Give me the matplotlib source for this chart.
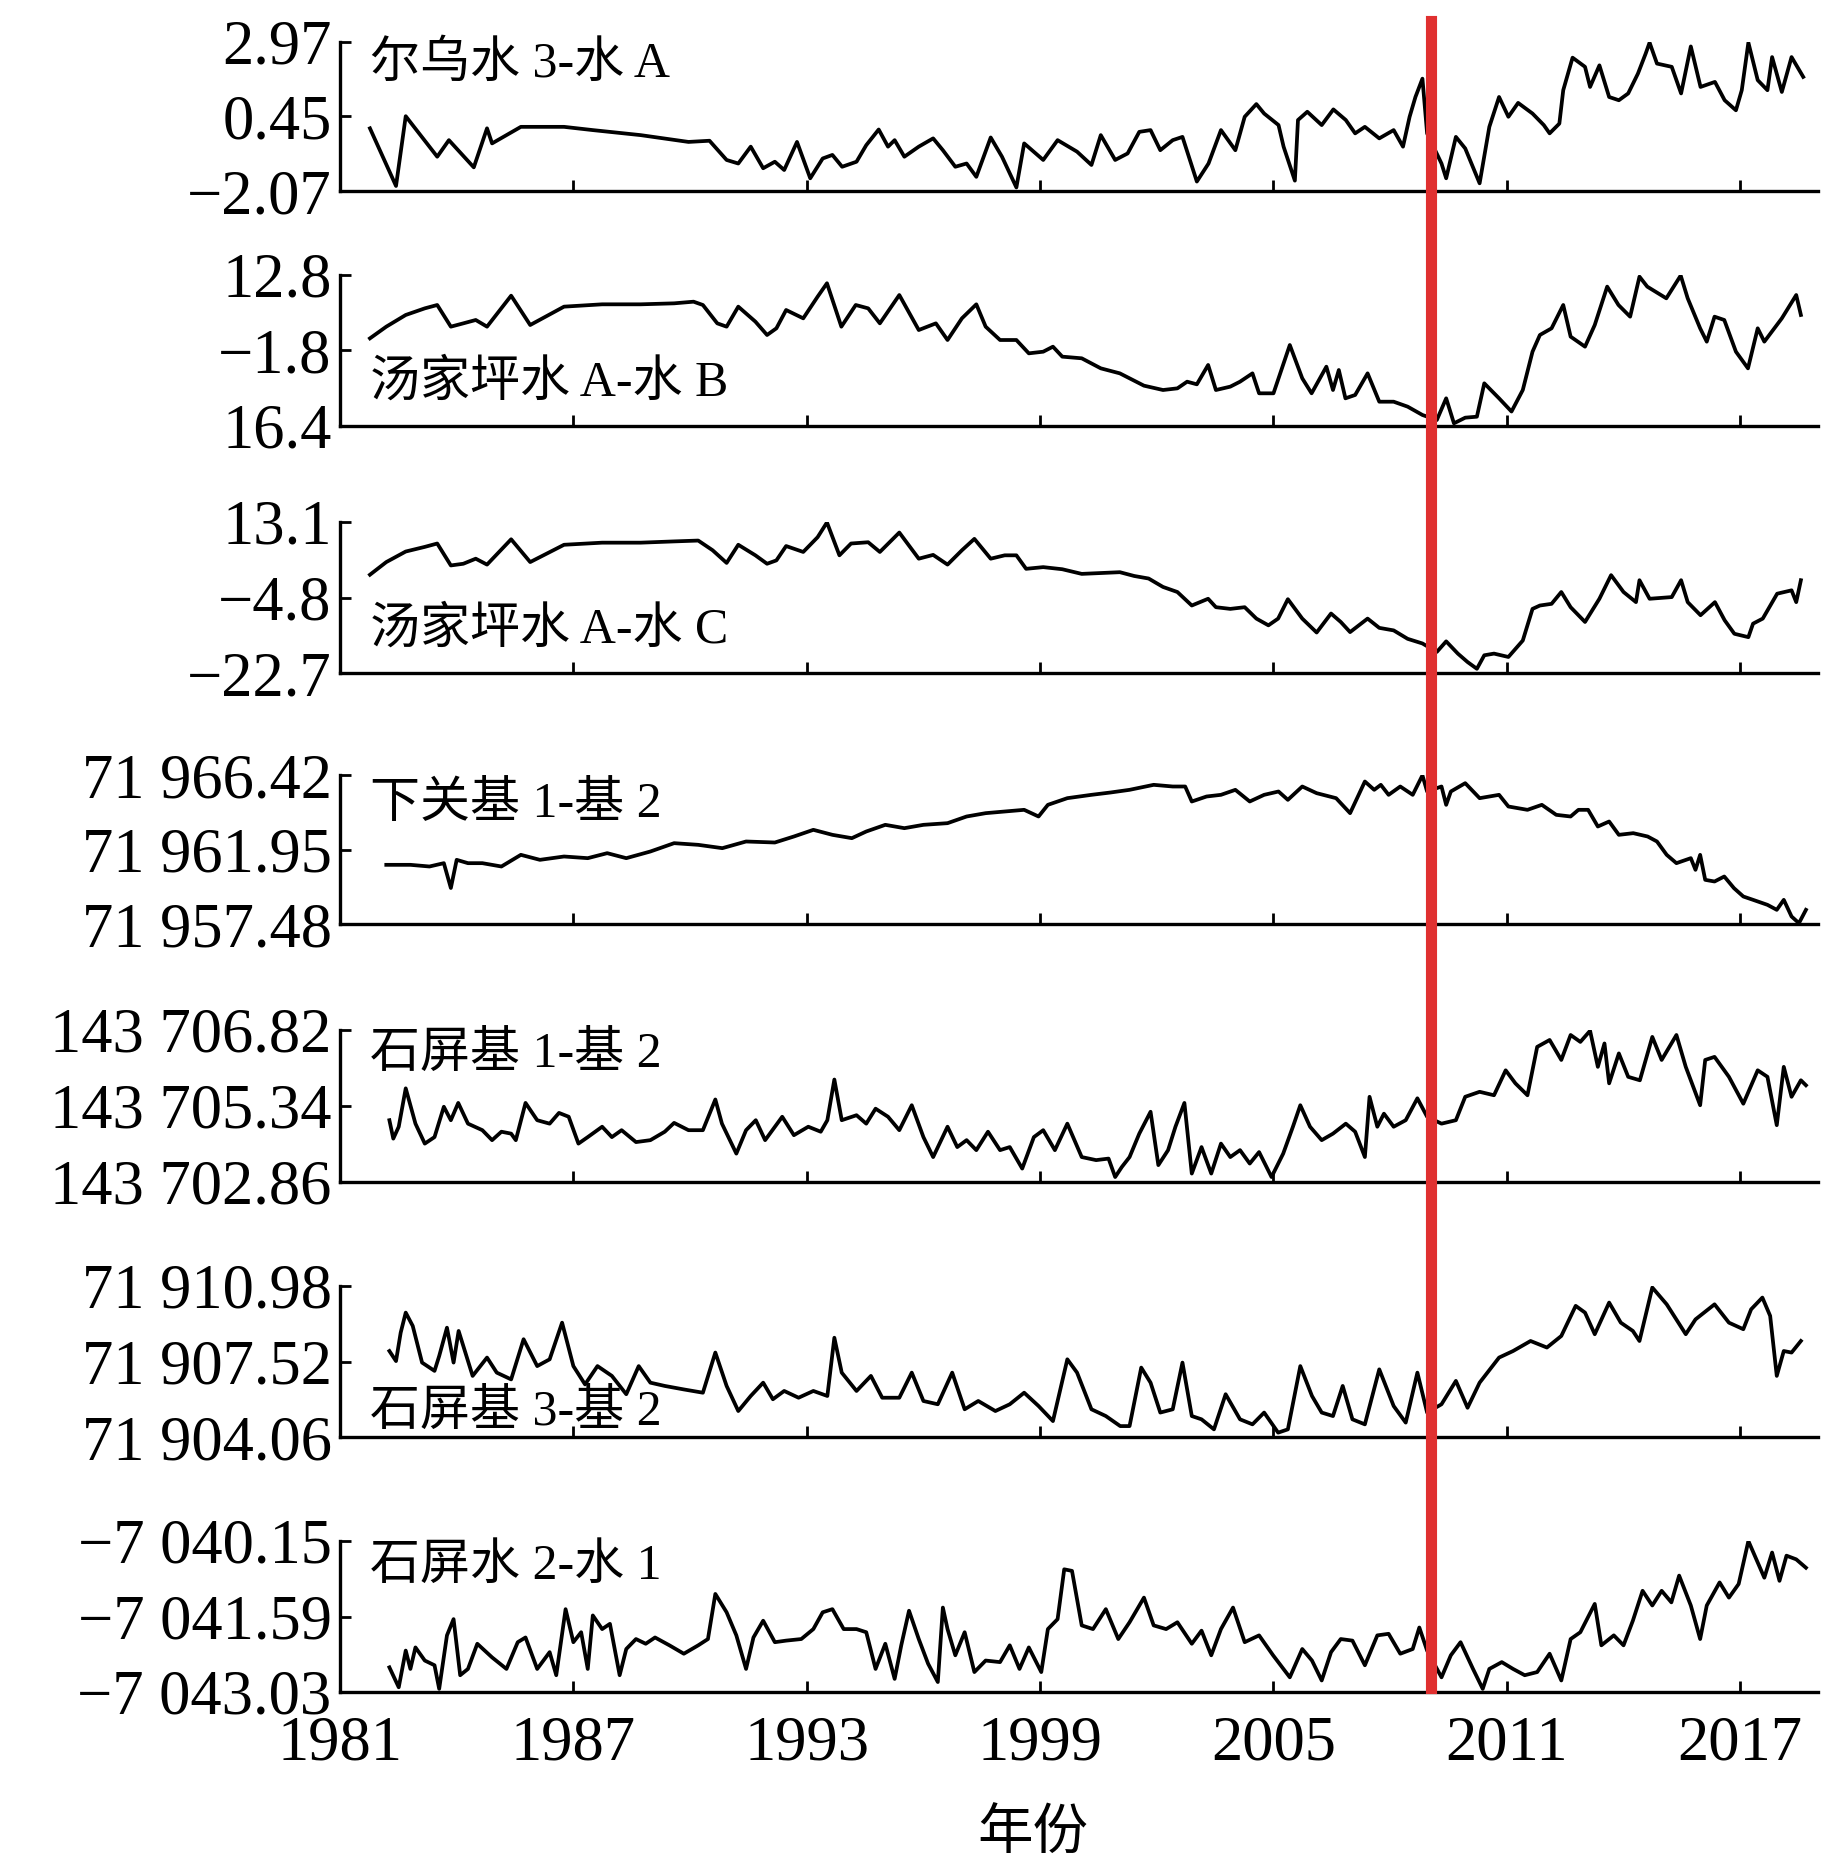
import matplotlib
matplotlib.use("Agg")
import matplotlib.pyplot as plt
from matplotlib.lines import Line2D
from matplotlib.transforms import blended_transform_factory

plt.rcParams['font.family'] = ['Liberation Serif', 'Noto Sans CJK SC', 'DejaVu Sans']
plt.rcParams['axes.unicode_minus'] = True

# ---------------- data (year, value) ----------------
s1 = [(1981.77, 0.05), (1982.44, -1.90), (1982.69, 0.46), (1983.50, -0.91), (1983.80, -0.35),
      (1984.44, -1.27), (1984.78, 0.05), (1984.91, -0.46), (1985.65, 0.10), (1986.76, 0.10),
      (1987.5, -0.01), (1988.73, -0.18), (1989.96, -0.41), (1990.5, -0.37), (1990.94, -1.02),
      (1991.24, -1.14), (1991.56, -0.57), (1991.88, -1.30), (1992.18, -1.08), (1992.42, -1.36),
      (1992.75, -0.41), (1993.09, -1.64), (1993.41, -0.97), (1993.66, -0.85), (1993.91, -1.25),
      (1994.28, -1.08), (1994.53, -0.52), (1994.85, 0.01), (1995.09, -0.57), (1995.26, -0.35),
      (1995.51, -0.91), (1995.88, -0.57), (1996.25, -0.29), (1996.5, -0.69), (1996.82, -1.25),
      (1997.11, -1.14), (1997.36, -1.59), (1997.73, -0.26), (1998.02, -0.91), (1998.39, -1.95),
      (1998.59, -0.46), (1999.08, -1.02), (1999.45, -0.35), (1999.95, -0.74), (2000.32, -1.19),
      (2000.56, -0.18), (2000.93, -1.02), (2001.25, -0.80), (2001.55, -0.07), (2001.84, -0.01),
      (2002.09, -0.69), (2002.41, -0.35), (2002.66, -0.24), (2003.03, -1.75), (2003.33, -1.14),
      (2003.65, -0.01), (2004.02, -0.69), (2004.26, 0.44), (2004.56, 0.87), (2004.76, 0.55),
      (2005.13, 0.16), (2005.26, -0.57), (2005.55, -1.72), (2005.63, 0.33), (2005.87, 0.61),
      (2006.24, 0.16), (2006.54, 0.69), (2006.86, 0.33), (2007.10, -0.12), (2007.35, 0.10),
      (2007.72, -0.29), (2008.09, -0.01), (2008.33, -0.57), (2008.50, 0.44), (2008.65, 1.11),
      (2008.83, 1.73), (2008.95, -0.12), (2009.32, -1.14), (2009.44, -1.64), (2009.69, -0.24),
      (2009.93, -0.63), (2010.30, -1.81), (2010.55, 0.10), (2010.80, 1.11), (2011.04, 0.44),
      (2011.29, 0.91), (2011.66, 0.55), (2011.95, 0.16), (2012.10, -0.12), (2012.35, 0.21),
      (2012.45, 1.34), (2012.69, 2.44), (2013.01, 2.13), (2013.14, 1.45), (2013.38, 2.18),
      (2013.63, 1.11), (2013.88, 1.00), (2014.12, 1.23), (2014.37, 1.90), (2014.57, 2.58),
      (2014.67, 2.95), (2014.86, 2.24), (2015.24, 2.13), (2015.48, 1.23), (2015.73, 2.82),
      (2015.98, 1.45), (2016.35, 1.62), (2016.60, 1.00), (2016.89, 0.66), (2017.04, 1.34),
      (2017.21, 2.95), (2017.45, 1.68), (2017.70, 1.34), (2017.82, 2.46), (2018.07, 1.28),
      (2018.32, 2.46), (2018.62, 1.79)]

s2 = [(1981.77, 0.55), (1982.19, 2.81), (1982.69, 5.07), (1983.18, 6.35), (1983.50, 7.0),
      (1983.85, 2.81), (1984.17, 3.45), (1984.49, 4.10), (1984.78, 2.81), (1985.40, 8.80),
      (1985.89, 3.13), (1986.76, 6.68), (1987.74, 7.13), (1988.73, 7.13), (1989.59, 7.32),
      (1990.09, 7.64), (1990.33, 7.0), (1990.70, 3.45), (1990.94, 2.81), (1991.24, 6.68),
      (1991.68, 3.78), (1991.98, 1.20), (1992.22, 2.49), (1992.47, 6.03), (1992.91, 4.42),
      (1993.28, 8.61), (1993.52, 11.2), (1993.89, 2.81), (1994.26, 7.0), (1994.58, 6.35),
      (1994.88, 3.45), (1995.38, 8.93), (1995.88, 2.16), (1996.32, 3.45), (1996.62, 0.23),
      (1996.99, 4.42), (1997.36, 7.13), (1997.60, 2.81), (1997.97, 0.23), (1998.39, 0.23),
      (1998.71, -2.35), (1999.08, -2.03), (1999.33, -1.06), (1999.57, -2.99), (2000.07, -3.31),
      (2000.56, -5.25), (2001.05, -6.22), (2001.30, -7.18), (2001.67, -8.6), (2002.16, -9.44),
      (2002.53, -9.12), (2002.78, -7.83), (2003.03, -8.34), (2003.32, -4.60), (2003.52, -9.44),
      (2003.89, -8.79), (2004.14, -7.83), (2004.46, -6.22), (2004.63, -10.08), (2005.0, -10.08),
      (2005.42, -0.74), (2005.74, -7.18), (2005.98, -10.08), (2006.36, -4.93), (2006.53, -9.44),
      (2006.68, -5.57), (2006.85, -11.05), (2007.10, -10.4), (2007.42, -6.22), (2007.72, -11.7),
      (2008.09, -11.7), (2008.45, -12.66), (2008.83, -14.27), (2009.20, -15.24), (2009.44, -11.05),
      (2009.64, -15.88), (2009.93, -14.79), (2010.23, -14.6), (2010.42, -8.15), (2010.80, -11.05),
      (2011.12, -13.6), (2011.41, -9.44), (2011.66, -2.03), (2011.85, 1.20), (2012.15, 2.49),
      (2012.45, 7.0), (2012.64, 0.88), (2013.01, -1.06), (2013.26, 3.13), (2013.58, 10.55),
      (2013.87, 7.0), (2014.17, 4.74), (2014.41, 12.48), (2014.61, 10.55), (2015.10, 8.29),
      (2015.47, 12.7), (2015.65, 8.29), (2015.97, 2.49), (2016.14, -0.09), (2016.34, 4.74),
      (2016.59, 4.10), (2016.89, -2.03), (2017.20, -5.25), (2017.45, 2.49), (2017.62, -0.09),
      (2018.07, 4.42), (2018.44, 8.93), (2018.56, 5.07)]

s3 = [(1981.77, 0.6), (1982.19, 3.6), (1982.69, 6.1), (1983.18, 7.2), (1983.50, 8.0),
      (1983.85, 2.8), (1984.17, 3.2), (1984.49, 4.4), (1984.78, 3.0), (1985.40, 9.0),
      (1985.89, 3.6), (1986.76, 7.7), (1987.74, 8.2), (1988.73, 8.2), (1989.59, 8.5),
      (1990.21, 8.7), (1990.58, 6.4), (1990.94, 3.4), (1991.24, 7.7), (1991.68, 5.2),
      (1991.98, 3.2), (1992.22, 4.0), (1992.47, 7.4), (1992.91, 6.0), (1993.28, 9.5),
      (1993.52, 13.0), (1993.84, 5.2), (1994.14, 8.0), (1994.58, 8.3), (1994.88, 6.0),
      (1995.38, 10.6), (1995.88, 4.4), (1996.25, 5.3), (1996.62, 3.0), (1996.99, 6.4),
      (1997.31, 9.1), (1997.73, 4.4), (1998.09, 5.2), (1998.39, 5.2), (1998.64, 2.0),
      (1999.08, 2.4), (1999.57, 1.9), (2000.07, 0.8), (2000.56, 1.0), (2001.05, 1.2),
      (2001.42, 0.3), (2001.79, -0.3), (2002.16, -2.3), (2002.53, -3.5), (2002.90, -6.7),
      (2003.32, -5.1), (2003.52, -7.1), (2003.89, -7.5), (2004.26, -7.1), (2004.56, -9.8),
      (2004.87, -11.4), (2005.12, -9.8), (2005.37, -5.2), (2005.74, -9.8), (2006.11, -13.1),
      (2006.48, -8.6), (2006.73, -10.6), (2006.97, -13.0), (2007.42, -9.8), (2007.72, -12.0),
      (2008.09, -12.6), (2008.45, -14.6), (2008.83, -15.7), (2009.20, -17.7), (2009.44, -15.2),
      (2009.74, -18.1), (2009.99, -20.1), (2010.23, -21.7), (2010.42, -18.5), (2010.67, -18.1),
      (2011.04, -18.9), (2011.41, -15.0), (2011.66, -7.5), (2011.85, -6.7), (2012.15, -6.3),
      (2012.40, -3.5), (2012.64, -7.1), (2013.01, -10.6), (2013.38, -5.1), (2013.68, 0.5),
      (2014.00, -3.5), (2014.32, -5.9), (2014.41, -0.7), (2014.67, -5.1), (2015.24, -4.7),
      (2015.48, -0.7), (2015.65, -5.9), (2015.98, -9.0), (2016.35, -5.9), (2016.60, -10.2),
      (2016.85, -13.4), (2017.21, -14.2), (2017.33, -11.0), (2017.58, -9.8), (2017.95, -3.9),
      (2018.32, -3.1), (2018.44, -5.9), (2018.56, -0.7)]

s4 = [(1982.19, 71961.03), (1982.81, 71961.03), (1983.30, 71960.93), (1983.67, 71961.13),
      (1983.85, 71959.64), (1984.00, 71961.33), (1984.29, 71961.13), (1984.66, 71961.13),
      (1985.15, 71960.93), (1985.65, 71961.63), (1986.14, 71961.33), (1986.76, 71961.53),
      (1987.37, 71961.43), (1987.87, 71961.73), (1988.36, 71961.43), (1988.98, 71961.83),
      (1989.59, 71962.33), (1990.21, 71962.23), (1990.83, 71962.03), (1991.44, 71962.43),
      (1992.18, 71962.37), (1992.67, 71962.73), (1993.17, 71963.13), (1993.66, 71962.83),
      (1994.16, 71962.63), (1994.53, 71963.03), (1995.02, 71963.43), (1995.51, 71963.23),
      (1996.00, 71963.43), (1996.62, 71963.53), (1997.11, 71963.93), (1997.60, 71964.13),
      (1998.09, 71964.23), (1998.59, 71964.33), (1998.96, 71963.93), (1999.20, 71964.63),
      (1999.70, 71965.03), (2000.32, 71965.23), (2000.81, 71965.37), (2001.30, 71965.53),
      (2001.92, 71965.83), (2002.41, 71965.73), (2002.73, 71965.73), (2002.90, 71964.83),
      (2003.28, 71965.13), (2003.65, 71965.23), (2004.02, 71965.53), (2004.39, 71964.83),
      (2004.76, 71965.23), (2005.13, 71965.43), (2005.37, 71964.93), (2005.74, 71965.73),
      (2006.11, 71965.33), (2006.61, 71965.03), (2006.97, 71964.13), (2007.35, 71966.03),
      (2007.59, 71965.53), (2007.76, 71965.83), (2007.96, 71965.23), (2008.26, 71965.73),
      (2008.58, 71965.23), (2008.83, 71966.40), (2008.95, 71965.43), (2009.32, 71965.73),
      (2009.44, 71964.63), (2009.56, 71965.43), (2009.93, 71965.93), (2010.30, 71965.03),
      (2010.80, 71965.23), (2011.04, 71964.53), (2011.53, 71964.33), (2011.90, 71964.63),
      (2012.27, 71964.03), (2012.64, 71963.93), (2012.84, 71964.33), (2013.09, 71964.33),
      (2013.34, 71963.33), (2013.63, 71963.63), (2013.88, 71962.83), (2014.25, 71962.93),
      (2014.62, 71962.73), (2014.86, 71962.43), (2015.11, 71961.63), (2015.36, 71961.13),
      (2015.73, 71961.43), (2015.85, 71960.73), (2015.97, 71961.63), (2016.10, 71960.13),
      (2016.34, 71960.03), (2016.59, 71960.33), (2016.84, 71959.63), (2017.08, 71959.13),
      (2017.33, 71958.93), (2017.70, 71958.63), (2017.94, 71958.33), (2018.12, 71958.93),
      (2018.32, 71957.93), (2018.51, 71957.53), (2018.69, 71958.33)]

s5 = [(1982.27, 143704.47), (1982.37, 143703.99), (1982.51, 143704.30), (1982.69, 143705.30),
      (1982.94, 143704.38), (1983.18, 143703.86), (1983.43, 143704.03), (1983.67, 143704.82),
      (1983.85, 143704.47), (1984.04, 143704.92), (1984.29, 143704.38), (1984.66, 143704.21),
      (1984.91, 143703.95), (1985.15, 143704.17), (1985.40, 143704.12), (1985.52, 143703.95),
      (1985.77, 143704.92), (1986.07, 143704.47), (1986.39, 143704.38), (1986.63, 143704.66),
      (1986.88, 143704.56), (1987.13, 143703.86), (1987.37, 143704.03), (1987.74, 143704.30),
      (1987.99, 143704.03), (1988.24, 143704.21), (1988.61, 143703.90), (1988.98, 143703.95),
      (1989.35, 143704.17), (1989.59, 143704.40), (1989.96, 143704.21), (1990.33, 143704.21),
      (1990.65, 143705.01), (1990.82, 143704.38), (1991.19, 143703.60), (1991.44, 143704.21),
      (1991.69, 143704.47), (1991.93, 143703.95), (1992.37, 143704.56), (1992.67, 143704.08),
      (1993.04, 143704.30), (1993.36, 143704.17), (1993.53, 143704.47), (1993.71, 143705.53),
      (1993.90, 143704.47), (1994.28, 143704.60), (1994.53, 143704.38), (1994.77, 143704.77),
      (1995.09, 143704.56), (1995.38, 143704.21), (1995.70, 143704.86), (1996.00, 143704.03),
      (1996.25, 143703.51), (1996.62, 143704.30), (1996.87, 143703.77), (1997.11, 143703.95),
      (1997.36, 143703.69), (1997.66, 143704.17), (1997.97, 143703.69), (1998.22, 143703.77),
      (1998.54, 143703.21), (1998.84, 143704.03), (1999.08, 143704.21), (1999.38, 143703.69),
      (1999.70, 143704.38), (2000.07, 143703.51), (2000.44, 143703.43), (2000.76, 143703.47),
      (2000.93, 143702.99), (2001.10, 143703.25), (2001.30, 143703.51), (2001.55, 143704.12),
      (2001.84, 143704.69), (2002.04, 143703.30), (2002.29, 143703.69), (2002.48, 143704.30),
      (2002.71, 143704.92), (2002.90, 143703.08), (2003.15, 143703.77), (2003.40, 143703.08),
      (2003.65, 143703.86), (2003.89, 143703.51), (2004.14, 143703.69), (2004.39, 143703.34),
      (2004.63, 143703.64), (2004.95, 143702.99), (2005.25, 143703.60), (2005.50, 143704.30),
      (2005.69, 143704.86), (2005.94, 143704.30), (2006.24, 143703.95), (2006.53, 143704.12),
      (2006.86, 143704.38), (2007.10, 143704.17), (2007.35, 143703.51), (2007.47, 143705.08),
      (2007.67, 143704.30), (2007.84, 143704.64), (2008.09, 143704.30), (2008.40, 143704.47),
      (2008.70, 143705.04), (2008.95, 143704.56), (2009.32, 143704.38), (2009.69, 143704.47),
      (2009.93, 143705.08), (2010.30, 143705.21), (2010.67, 143705.12), (2010.97, 143705.77),
      (2011.22, 143705.43), (2011.53, 143705.12), (2011.78, 143706.38), (2012.10, 143706.56),
      (2012.40, 143706.04), (2012.64, 143706.69), (2012.89, 143706.51), (2013.14, 143706.80),
      (2013.34, 143705.86), (2013.51, 143706.47), (2013.63, 143705.43), (2013.88, 143706.21),
      (2014.12, 143705.60), (2014.42, 143705.51), (2014.74, 143706.64), (2014.98, 143706.04),
      (2015.36, 143706.69), (2015.60, 143705.86), (2015.97, 143704.86), (2016.10, 143706.04),
      (2016.34, 143706.12), (2016.71, 143705.60), (2017.08, 143704.90), (2017.45, 143705.77),
      (2017.70, 143705.60), (2017.94, 143704.34), (2018.12, 143705.86), (2018.32, 143705.08),
      (2018.56, 143705.51), (2018.69, 143705.38)]

s6 = [(1982.27, 71908.00), (1982.44, 71907.54), (1982.56, 71908.84), (1982.69, 71909.76),
      (1982.87, 71909.15), (1983.11, 71907.47), (1983.43, 71907.09), (1983.55, 71907.77),
      (1983.75, 71909.07), (1983.92, 71907.47), (1984.05, 71908.92), (1984.41, 71906.86),
      (1984.78, 71907.70), (1985.03, 71907.01), (1985.40, 71906.70), (1985.72, 71908.54),
      (1986.07, 71907.31), (1986.39, 71907.62), (1986.71, 71909.30), (1987.00, 71907.31),
      (1987.30, 71906.47), (1987.62, 71907.31), (1987.99, 71906.86), (1988.36, 71906.02),
      (1988.68, 71907.31), (1988.98, 71906.55), (1989.35, 71906.40), (1989.84, 71906.24),
      (1990.33, 71906.09), (1990.65, 71907.93), (1990.94, 71906.40), (1991.24, 71905.25),
      (1991.56, 71905.94), (1991.88, 71906.55), (1992.13, 71905.79), (1992.42, 71906.17),
      (1992.79, 71905.86), (1993.17, 71906.17), (1993.53, 71905.94), (1993.71, 71908.61),
      (1993.90, 71907.01), (1994.28, 71906.17), (1994.65, 71906.86), (1994.94, 71905.86),
      (1995.38, 71905.86), (1995.70, 71907.01), (1996.00, 71905.71), (1996.37, 71905.56),
      (1996.74, 71907.01), (1997.06, 71905.33), (1997.41, 71905.71), (1997.85, 71905.25),
      (1998.22, 71905.56), (1998.59, 71906.09), (1998.96, 71905.48), (1999.33, 71904.79),
      (1999.70, 71907.62), (1999.95, 71907.01), (2000.32, 71905.33), (2000.69, 71905.02),
      (2001.06, 71904.56), (2001.30, 71904.56), (2001.60, 71907.24), (2001.84, 71906.55),
      (2002.09, 71905.18), (2002.41, 71905.33), (2002.66, 71907.47), (2002.90, 71905.02),
      (2003.15, 71904.87), (2003.47, 71904.41), (2003.77, 71906.02), (2004.14, 71904.87),
      (2004.46, 71904.64), (2004.76, 71905.18), (2005.12, 71904.26), (2005.37, 71904.41),
      (2005.69, 71907.31), (2005.99, 71905.94), (2006.24, 71905.18), (2006.53, 71905.02),
      (2006.78, 71906.40), (2007.03, 71904.87), (2007.35, 71904.64), (2007.72, 71907.16),
      (2008.09, 71905.48), (2008.40, 71904.72), (2008.70, 71907.01), (2008.95, 71905.18),
      (2009.32, 71905.56), (2009.69, 71906.63), (2009.99, 71905.40), (2010.30, 71906.55),
      (2010.80, 71907.70), (2011.16, 71908.00), (2011.61, 71908.46), (2012.03, 71908.16),
      (2012.40, 71908.69), (2012.77, 71910.07), (2013.01, 71909.76), (2013.26, 71908.77),
      (2013.63, 71910.22), (2013.93, 71909.30), (2014.24, 71908.92), (2014.41, 71908.46),
      (2014.74, 71910.91), (2015.11, 71910.14), (2015.60, 71908.77), (2015.85, 71909.45),
      (2016.34, 71910.14), (2016.71, 71909.30), (2017.08, 71909.00), (2017.28, 71909.91),
      (2017.57, 71910.45), (2017.77, 71909.61), (2017.94, 71906.86), (2018.12, 71908.00),
      (2018.32, 71907.93), (2018.56, 71908.46)]

s7 = [(1982.27, -7042.56), (1982.51, -7042.94), (1982.69, -7042.24), (1982.81, -7042.59),
      (1982.94, -7042.18), (1983.18, -7042.43), (1983.43, -7042.52), (1983.55, -7042.97),
      (1983.75, -7041.95), (1983.92, -7041.64), (1984.09, -7042.71), (1984.29, -7042.59),
      (1984.53, -7042.11), (1984.91, -7042.37), (1985.28, -7042.59), (1985.57, -7042.08),
      (1985.77, -7041.99), (1986.07, -7042.59), (1986.39, -7042.27), (1986.56, -7042.71),
      (1986.80, -7041.45), (1987.00, -7042.08), (1987.20, -7041.89), (1987.37, -7042.59),
      (1987.50, -7041.57), (1987.74, -7041.83), (1987.94, -7041.73), (1988.19, -7042.71),
      (1988.36, -7042.21), (1988.61, -7042.02), (1988.86, -7042.11), (1989.10, -7041.99),
      (1989.47, -7042.14), (1989.84, -7042.30), (1990.21, -7042.14), (1990.46, -7042.02),
      (1990.65, -7041.16), (1990.94, -7041.51), (1991.19, -7041.95), (1991.44, -7042.59),
      (1991.63, -7041.99), (1991.88, -7041.67), (1992.18, -7042.08), (1992.47, -7042.05),
      (1992.86, -7042.02), (1993.17, -7041.83), (1993.41, -7041.51), (1993.66, -7041.45),
      (1993.95, -7041.83), (1994.28, -7041.83), (1994.53, -7041.89), (1994.77, -7042.59),
      (1995.02, -7042.11), (1995.26, -7042.78), (1995.43, -7042.14), (1995.63, -7041.48),
      (1995.88, -7042.02), (1996.12, -7042.49), (1996.37, -7042.84), (1996.50, -7041.42),
      (1996.62, -7041.83), (1996.82, -7042.33), (1997.06, -7041.89), (1997.31, -7042.65),
      (1997.60, -7042.43), (1997.97, -7042.46), (1998.22, -7042.14), (1998.47, -7042.59),
      (1998.71, -7042.18), (1999.03, -7042.65), (1999.20, -7041.83), (1999.45, -7041.64),
      (1999.62, -7040.69), (1999.82, -7040.72), (2000.07, -7041.76), (2000.36, -7041.83),
      (2000.69, -7041.45), (2001.01, -7042.02), (2001.30, -7041.70), (2001.67, -7041.23),
      (2001.92, -7041.76), (2002.24, -7041.83), (2002.53, -7041.70), (2002.90, -7042.11),
      (2003.15, -7041.86), (2003.40, -7042.33), (2003.65, -7041.83), (2003.96, -7041.42),
      (2004.26, -7042.08), (2004.63, -7041.95), (2004.99, -7042.33), (2005.42, -7042.75),
      (2005.74, -7042.21), (2005.99, -7042.43), (2006.24, -7042.81), (2006.48, -7042.27),
      (2006.73, -7042.02), (2007.03, -7042.05), (2007.35, -7042.52), (2007.67, -7041.95),
      (2007.96, -7041.92), (2008.26, -7042.30), (2008.58, -7042.21), (2008.75, -7041.80),
      (2008.95, -7042.24), (2009.32, -7042.75), (2009.56, -7042.33), (2009.81, -7042.08),
      (2010.13, -7042.59), (2010.38, -7042.97), (2010.55, -7042.59), (2010.87, -7042.46),
      (2011.16, -7042.59), (2011.46, -7042.71), (2011.78, -7042.65), (2012.10, -7042.30),
      (2012.40, -7042.81), (2012.64, -7042.02), (2012.89, -7041.89), (2013.26, -7041.35),
      (2013.43, -7042.14), (2013.75, -7041.95), (2014.00, -7042.14), (2014.24, -7041.67),
      (2014.49, -7041.10), (2014.74, -7041.38), (2014.98, -7041.10), (2015.23, -7041.32),
      (2015.43, -7040.81), (2015.73, -7041.38), (2015.97, -7042.02), (2016.14, -7041.38),
      (2016.47, -7040.94), (2016.71, -7041.23), (2016.96, -7040.97), (2017.21, -7040.15),
      (2017.45, -7040.56), (2017.62, -7040.85), (2017.82, -7040.37), (2018.01, -7040.91),
      (2018.19, -7040.43), (2018.44, -7040.50), (2018.69, -7040.66)]

series = [s1, s2, s3, s4, s5, s6, s7]

panel_labels = ["尔乌水 3-水 A", "汤家坪水 A-水 B", "汤家坪水 A-水 C", "下关基 1-基 2",
                "石屏基 1-基 2", "石屏基 3-基 2", "石屏水 2-水 1"]

y_limits = [(-2.07, 2.97), (-16.4, 12.8), (-22.7, 13.1), (71957.48, 71966.42),
            (143702.86, 143706.82), (71904.06, 71910.98), (-7043.03, -7040.15)]

y_ticklabels = [["−2.07", "0.45", "2.97"],
                ["16.4", "−1.8", "12.8"],
                ["−22.7", "−4.8", "13.1"],
                ["71 957.48", "71 961.95", "71 966.42"],
                ["143 702.86", "143 705.34", "143 706.82"],
                ["71 904.06", "71 907.52", "71 910.98"],
                ["−7 043.03", "−7 041.59", "−7 040.15"]]

x_ticks = [1981, 1987, 1993, 1999, 2005, 2011, 2017]
x_ticklabels = ["1981", "1987", "1993", "1999", "2005", "2011", "2017"]
break_year = 2009.05
x_label = "年份"

# ---------------- layout ----------------
W, H = 1843, 1866
fig = plt.figure(figsize=(W / 100, H / 100), dpi=100)

panel_px = [(42, 191), (275, 426), (522, 673), (775, 924), (1030, 1182), (1286, 1437), (1541, 1692)]
label_yfrac = [0.846, 0.28, 0.28, 0.80, 0.84, 0.16, 0.83]
left_px, right_px = 340, 1818

axes = []
for i, (top, bot) in enumerate(panel_px):
    ax = fig.add_axes([left_px / W, 1 - bot / H, (right_px - left_px) / W, (bot - top) / H])
    xs, ys = zip(*series[i])
    ax.plot(xs, ys, color='black', lw=2.7, solid_joinstyle='round')
    lo, hi = y_limits[i]
    ax.set_ylim(lo, hi)
    ax.set_xlim(1981, 2019)
    ax.set_yticks([lo, (lo + hi) / 2, hi])
    ax.set_yticklabels(y_ticklabels[i])
    ax.set_xticks(x_ticks)
    if i == len(panel_px) - 1:
        ax.set_xticklabels(x_ticklabels)
    else:
        ax.tick_params(axis='x', labelbottom=False)
    for s in ('top', 'right'):
        ax.spines[s].set_visible(False)
    for s in ('left', 'bottom'):
        ax.spines[s].set_linewidth(2.4)
    ax.tick_params(axis='both', direction='in', length=8, width=2.0, labelsize=45)
    ax.tick_params(axis='y', pad=6)
    ax.tick_params(axis='x', pad=17)
    ax.patch.set_alpha(0)
    ax.text(0.02, label_yfrac[i], panel_labels[i], transform=ax.transAxes,
            fontsize=36, ha='left', va='center')
    axes.append(ax)

# red vertical marker across all panels
trans = blended_transform_factory(axes[-1].transData, fig.transFigure)
fig.add_artist(Line2D([break_year, break_year], [1 - 1688 / H, 1 - 21 / H],
                      transform=trans, color='#e03030', lw=8, zorder=10))

fig.text(1033 / W, 1 - 1836 / H, x_label, fontsize=40, ha='center', va='center')

fig.savefig("out.png", dpi=100)
